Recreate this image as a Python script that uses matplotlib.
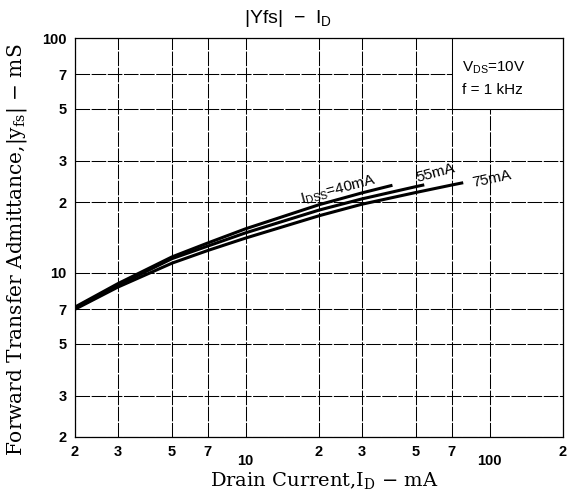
import matplotlib
matplotlib.use("Agg")
import matplotlib.pyplot as plt
from matplotlib.patches import Rectangle
from matplotlib.ticker import FixedLocator, FixedFormatter, NullLocator
from matplotlib.transforms import ScaledTranslation

plt.rcParams["mathtext.fontset"] = "custom"
plt.rcParams["mathtext.rm"] = "DejaVu Serif"
plt.rcParams["mathtext.sf"] = "Liberation Sans"

# values (ID in mA, |Yfs| in mS)
id_40 = [2, 3, 5, 7, 10, 20, 30, 40]
yfs_40 = [7.15, 9.0, 11.7, 13.4, 15.4, 19.5, 21.9, 23.6]
id_55 = [2, 3, 5, 7, 10, 20, 30, 50, 54]
yfs_55 = [7.1, 8.85, 11.5, 13.0, 14.8, 18.5, 20.65, 23.3, 23.7]
id_75 = [2, 3, 5, 7, 10, 20, 30, 50, 70, 78]
yfs_75 = [7.0, 8.7, 11.0, 12.45, 14.06, 17.5, 19.6, 22.0, 23.66, 24.2]

x_ticks = [2, 3, 5, 7, 10, 20, 30, 50, 70, 100, 200]
x_labels = ["2", "3", "5", "7", "10", "2", "3", "5", "7", "100", "2"]
y_ticks = [2, 3, 5, 7, 10, 20, 30, 50, 70, 100]
y_labels = ["2", "3", "5", "7", "10", "2", "3", "5", "7", "100"]

fig = plt.figure(figsize=(5.76, 4.96), dpi=100)
ax = fig.add_axes([75 / 576, 1 - 437 / 496, 488 / 576, 399 / 496])
ax.set_xscale("log")
ax.set_yscale("log")
ax.set_xlim(2, 200)
ax.set_ylim(2, 100)

ax.xaxis.set_major_locator(FixedLocator(x_ticks))
ax.xaxis.set_major_formatter(FixedFormatter(x_labels))
ax.xaxis.set_minor_locator(NullLocator())
ax.yaxis.set_major_locator(FixedLocator(y_ticks))
ax.yaxis.set_major_formatter(FixedFormatter(y_labels))
ax.yaxis.set_minor_locator(NullLocator())
ax.tick_params(length=0, pad=6)
for lab in ax.get_xticklabels() + ax.get_yticklabels():
    lab.set_fontfamily("Liberation Sans")
    lab.set_fontweight("bold")
    lab.set_fontsize(10.5)

# the decade labels 10 and 100 sit a bit lower on the x axis
drop = ScaledTranslation(0, -6 / 72, fig.dpi_scale_trans)
for i, tick in enumerate(ax.xaxis.get_major_ticks()):
    if x_labels[i] in ("10", "100"):
        tick.label1.set_transform(tick.label1.get_transform() + drop)

ax.set_axisbelow(True)
ax.grid(True, color="black", lw=0.75, linestyle=(0, (14, 1.5)))
for s in ax.spines.values():
    s.set_linewidth(0.9)

# condition box in the upper right corner
ax.add_patch(Rectangle((70, 50), 130, 50, facecolor="white",
                       edgecolor="black", lw=0.75, zorder=1.5))
ax.text(77, 75, r"V$_\mathsf{DS}$=10V", family="Liberation Sans",
        fontsize=11, va="center", zorder=4)
ax.text(77, 60, "f = 1 kHz", family="Liberation Sans",
        fontsize=11, va="center", zorder=4)

for xs, ys in [(id_40, yfs_40), (id_55, yfs_55), (id_75, yfs_75)]:
    ax.plot(xs, ys, color="black", lw=2.2, solid_capstyle="butt", zorder=3)

ax.text(24, 22.6, r"I$_\mathsf{DSS}$=40mA", family="Liberation Sans",
        fontsize=11, rotation=15, ha="center", va="center", zorder=4)
ax.text(60, 26.6, "55mA", family="Liberation Sans",
        fontsize=11, rotation=15, ha="center", va="center", zorder=4)
ax.text(102, 25.1, "75mA", family="Liberation Sans",
        fontsize=11, rotation=12, ha="center", va="center", zorder=4)

ax.set_xlabel(r"Drain Current,I$_\mathrm{D}$ $-$ mA", family="DejaVu Serif",
              fontsize=14)
ax.xaxis.set_label_coords(0.51, -0.085)
ax.set_ylabel(r"Forward Transfer Admittance,|y$_\mathrm{fs}$| $-$ mS",
              family="DejaVu Serif", fontsize=14.5)
ax.yaxis.set_label_coords(-0.094, 0.47)
fig.text(0.5, 0.962, r"|Yfs|  −  I$_\mathsf{D}$", family="Liberation Sans",
         fontsize=14, ha="center", va="center")

fig.savefig("out.png", dpi=100)
